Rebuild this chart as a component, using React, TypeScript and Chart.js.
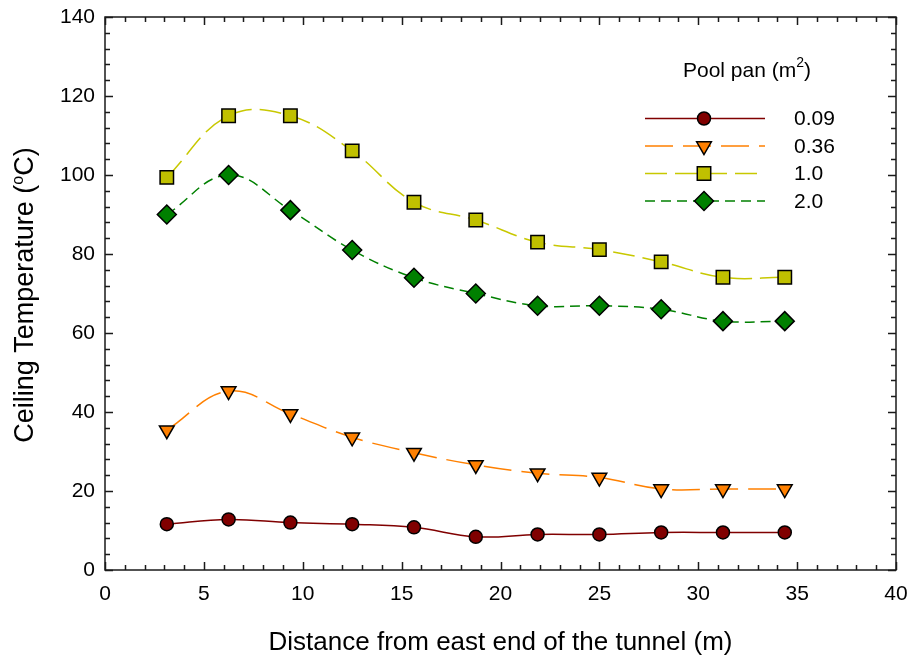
import React, { useEffect, useRef } from "react";
import { Chart, registerables } from "chart.js";

Chart.register(...registerables);

// ---- data ----
const distance = [3.125, 6.25, 9.375, 12.5, 15.625, 18.75, 21.875, 25, 28.125, 31.25, 34.375];
const pan009 = [11.6, 12.8, 12.0, 11.6, 10.8, 8.4, 9.0, 9.0, 9.5, 9.5, 9.5];
const pan036 = [35.4, 45.3, 39.5, 33.6, 29.7, 26.6, 24.5, 23.4, 20.5, 20.5, 20.5];
const pan10 = [99.4, 115.0, 115.0, 106.1, 93.1, 88.6, 83.0, 81.1, 78.0, 74.1, 74.1];
const pan20 = [90.0, 100.0, 91.1, 81.0, 74.0, 70.0, 66.9, 66.9, 66.0, 63.0, 63.0];
const seriesNames = ["0.09", "0.36", "1.0", "2.0"];
const seriesValues = [pan009, pan036, pan10, pan20];
const xMin = 0, xMax = 40, xMajor = 5, xMinor = 1;
const yMin = 0, yMax = 140, yMajor = 20, yMinor = 4;

const FONT = "'Liberation Sans', Arial, Helvetica, sans-serif";

const styles = [
  { line: "#800000", fill: "#800000", dash: [] as number[], point: "circle", radius: 6.5, rotation: 0 },
  { line: "#FF8000", fill: "#FF8000", dash: [28, 10], point: "triangle", radius: 8.5, rotation: 180 },
  { line: "#C8C800", fill: "#C0C000", dash: [22, 8], point: "rect", radius: 9.5, rotation: 0 },
  { line: "#008000", fill: "#008000", dash: [10, 6], point: "rectRot", radius: 9.5, rotation: 0 },
];

function drawMarker(ctx: CanvasRenderingContext2D, kind: string, x: number, y: number, r: number, rot: number) {
  ctx.beginPath();
  if (kind === "circle") {
    ctx.arc(x, y, r, 0, Math.PI * 2);
  } else if (kind === "triangle") {
    let a = (rot * Math.PI) / 180;
    ctx.moveTo(x + Math.sin(a) * r, y - Math.cos(a) * r);
    a += (2 * Math.PI) / 3;
    ctx.lineTo(x + Math.sin(a) * r, y - Math.cos(a) * r);
    a += (2 * Math.PI) / 3;
    ctx.lineTo(x + Math.sin(a) * r, y - Math.cos(a) * r);
    ctx.closePath();
  } else if (kind === "rect") {
    const s = Math.SQRT1_2 * r;
    ctx.rect(x - s, y - s, 2 * s, 2 * s);
  } else {
    ctx.moveTo(x - r, y);
    ctx.lineTo(x, y - r);
    ctx.lineTo(x + r, y);
    ctx.lineTo(x, y + r);
    ctx.closePath();
  }
  ctx.fill();
  ctx.stroke();
}

const framePlugin = {
  id: "frameTicks",
  beforeDatasetsDraw(chart: any) {
    const { ctx, chartArea: a, scales } = chart;
    const xs = scales.x, ys = scales.y;
    ctx.save();
    ctx.strokeStyle = "#1a1a1a";
    ctx.lineWidth = 1.5;
    ctx.setLineDash([]);
    ctx.strokeRect(a.left, a.top, a.right - a.left, a.bottom - a.top);
    ctx.beginPath();
    for (let v = xMin; v <= xMax; v += xMinor) {
      const px = Math.round(xs.getPixelForValue(v)) + 0.5;
      const len = v % xMajor === 0 ? 8 : 5;
      ctx.moveTo(px, a.bottom);
      ctx.lineTo(px, a.bottom - len);
      ctx.moveTo(px, a.top);
      ctx.lineTo(px, a.top + len);
    }
    for (let v = yMin; v <= yMax; v += yMinor) {
      const py = Math.round(ys.getPixelForValue(v)) + 0.5;
      const len = v % yMajor === 0 ? 8 : 5;
      ctx.moveTo(a.left, py);
      ctx.lineTo(a.left + len, py);
      ctx.moveTo(a.right, py);
      ctx.lineTo(a.right - len, py);
    }
    ctx.stroke();
    ctx.restore();
  },
  afterDraw(chart: any) {
    const { ctx, chartArea: a } = chart;
    ctx.save();
    ctx.fillStyle = "#000";
    // X title
    ctx.font = `26px ${FONT}`;
    ctx.textAlign = "center";
    ctx.textBaseline = "alphabetic";
    ctx.fillText("Distance from east end of the tunnel (m)", (a.left + a.right) / 2, 650);

    // Y title with superscript
    const p1 = "Ceiling Temperature (";
    const sup = "o";
    const p2 = "C)";
    ctx.font = `27px ${FONT}`;
    const w1 = ctx.measureText(p1).width;
    const w3 = ctx.measureText(p2).width;
    ctx.font = `16px ${FONT}`;
    const w2 = ctx.measureText(sup).width;
    const total = w1 + w2 + w3;
    ctx.save();
    ctx.translate(33, 295);
    ctx.rotate(-Math.PI / 2);
    ctx.textAlign = "left";
    ctx.font = `27px ${FONT}`;
    ctx.fillText(p1, -total / 2, 0);
    ctx.font = `16px ${FONT}`;
    ctx.fillText(sup, -total / 2 + w1, -10);
    ctx.font = `27px ${FONT}`;
    ctx.fillText(p2, -total / 2 + w1 + w2, 0);
    ctx.restore();

    // Legend title
    ctx.textAlign = "left";
    ctx.font = `21px ${FONT}`;
    const t1 = "Pool pan (m";
    const tw1 = ctx.measureText(t1).width;
    ctx.fillText(t1, 683, 77);
    ctx.font = `14px ${FONT}`;
    const tw2 = ctx.measureText("2").width;
    ctx.fillText("2", 683 + tw1, 67);
    ctx.font = `21px ${FONT}`;
    ctx.fillText(")", 683 + tw1 + tw2, 77);

    // Legend rows
    const rows = [118.5, 146, 173.5, 201];
    styles.forEach((s, i) => {
      const y = rows[i];
      ctx.save();
      ctx.strokeStyle = s.line;
      ctx.lineWidth = 1.5;
      ctx.setLineDash(s.dash);
      ctx.beginPath();
      ctx.moveTo(645, y);
      ctx.lineTo(765, y);
      ctx.stroke();
      ctx.setLineDash([]);
      ctx.fillStyle = s.fill;
      ctx.strokeStyle = "#000";
      ctx.lineWidth = 1.5;
      drawMarker(ctx, s.point, 704, y, s.radius, s.rotation);
      ctx.restore();
      ctx.fillStyle = "#000";
      ctx.font = `21px ${FONT}`;
      ctx.textBaseline = "middle";
      ctx.fillText(seriesNames[i], 794, y + 1);
      ctx.textBaseline = "alphabetic";
    });
    ctx.restore();
  },
};

export default function App() {
  const ref = useRef<HTMLCanvasElement | null>(null);
  useEffect(() => {
    if (!ref.current) return;
    const datasets = seriesValues.map((vals, i) => {
      const s = styles[i];
      return {
        label: seriesNames[i],
        data: distance.map((x, j) => ({ x, y: vals[j] })),
        borderColor: s.line,
        backgroundColor: s.fill,
        borderWidth: 1.5,
        borderDash: s.dash,
        tension: 0.4,
        pointStyle: s.point,
        pointRotation: s.rotation,
        pointRadius: s.radius,
        pointBorderColor: "#000",
        pointBackgroundColor: s.fill,
        pointBorderWidth: 1.5,
        fill: false,
      };
    });
    const chart = new Chart(ref.current, {
      type: "line",
      data: { datasets },
      options: {
        animation: false,
        responsive: false,
        devicePixelRatio: 1,
        layout: { padding: { top: 17, right: 16, left: 0, bottom: 0 } },
        plugins: { legend: { display: false }, tooltip: { enabled: false } },
        scales: {
          x: {
            type: "linear",
            min: xMin,
            max: xMax,
            grid: { display: false, drawTicks: false },
            border: { display: false },
            ticks: { stepSize: xMajor, color: "#000", font: { size: 21, family: FONT }, padding: 12, maxRotation: 0 },
            afterFit: (s: any) => { s.height = 88; s.paddingLeft = 0; s.paddingRight = 0; },
          },
          y: {
            type: "linear",
            min: yMin,
            max: yMax,
            grid: { display: false, drawTicks: false },
            border: { display: false },
            ticks: { stepSize: yMajor, color: "#000", font: { size: 21, family: FONT }, padding: 10 },
            afterFit: (s: any) => { s.width = 105; s.paddingTop = 0; s.paddingBottom = 0; },
          },
        },
      } as any,
      plugins: [framePlugin],
    });
    return () => chart.destroy();
  }, []);
  return (
    <div style={{ position: "fixed", left: 0, top: 0, width: 912, height: 658, background: "#fff" }}>
      <canvas ref={ref} width={912} height={658} />
    </div>
  );
}
